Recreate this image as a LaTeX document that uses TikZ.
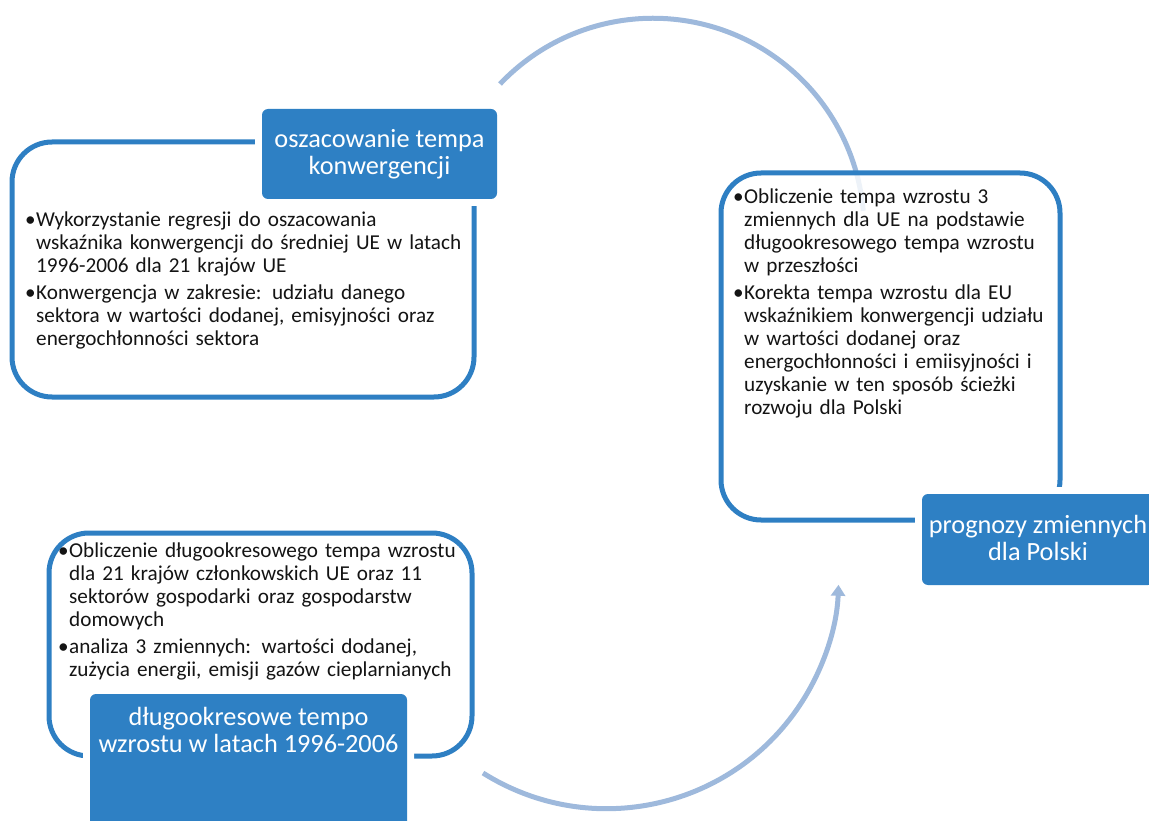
\documentclass[tikz,border=0pt]{standalone}
\usepackage{fontspec}
\setmainfont{Carlito}
\usetikzlibrary{arrows.meta}
\definecolor{frameblue}{RGB}{46,127,195}
\definecolor{headblue}{RGB}{46,128,196}
\definecolor{arcblue}{RGB}{158,185,220}
\definecolor{bodyink}{RGB}{20,20,20}
% bullet item with hanging indent
\newcommand\bul[1]{\par\hangindent=9pt\hangafter=1\noindent\makebox[9pt][l]{\hspace{-2pt}\textbullet}#1\par\vspace{4pt}}
\begin{document}
\begin{tikzpicture}[x=1pt,y=-1pt,
  frame/.style={draw=frameblue,line width=5pt,rounded corners=40pt,fill=white,fill opacity=0.82,inner sep=0pt},
  headbox/.style={fill=headblue,rounded corners=6pt,inner sep=0pt,
    preaction={draw=white,line width=14pt,rounded corners=6pt}},
  headtxt/.style={text=white,font=\fontsize{26.3}{27}\selectfont,align=center,inner sep=0pt},
  bodytxt/.style={text=bodyink,font=\fontsize{21.2}{23}\selectfont,align=left,inner sep=0pt,anchor=north west},
  cyclearc/.style={draw=arcblue,line width=5pt}]
\useasboundingbox (0,0) rectangle (1149,821);
\clip (0,0) rectangle (1149,821);

% cycle arcs
\coordinate (a1) at (500,84);
\coordinate (a2) at (483,773);
\draw[cyclearc] (a1) arc[start angle=136.5,end angle=5,radius=211pt];
\draw[cyclearc,-{Triangle[width=14pt,length=11pt]}] (a2) arc[start angle=237.8,end angle=358,radius=232pt];

% outline frames
\node[frame,minimum width=462pt,minimum height=255pt] (f1) at (243,269.5) {};
\node[frame,minimum width=339pt,minimum height=347pt] (f2) at (890.5,346.5) {};
\node[frame,minimum width=423pt,minimum height=223pt] (f3) at (260.5,644.5) {};

% heading boxes
\node[headbox,minimum width=235pt,minimum height=90pt] (h1) at (379.5,154) {};
\node[headbox,minimum width=232pt,minimum height=91pt] (h2) at (1038,539.5) {};
\node[headbox,minimum width=317pt,minimum height=150pt] (h3) at (248.5,769) {};

\node[headtxt] (h1t) at (h1.center) {oszacowanie tempa\\konwergencji};
\node[headtxt] (h2t) at (1038,538) {prognozy zmiennych\\dla Polski};
\node[headtxt] (h3t) at (248.5,730) {długookresowe tempo\\wzrostu w latach 1996-2006};

% bullet texts
\node[bodytxt,text width=445pt] (b1) at (27,203) {%
\bul{Wykorzystanie regresji do oszacowania\newline wskaźnika konwergencji do średniej UE w latach\newline 1996-2006 dla 21 krajów UE}%
\bul{Konwergencja w zakresie: udziału danego\newline sektora w wartości dodanej, emisyjności oraz\newline energochłonności sektora}};

\node[bodytxt,text width=330pt] (b2) at (735,180) {%
\bul{Obliczenie tempa wzrostu 3\newline zmiennych dla UE na podstawie\newline długookresowego tempa wzrostu\newline w przeszłości}%
\bul{Korekta tempa wzrostu dla EU\newline wskaźnikiem konwergencji udziału\newline w wartości dodanej oraz\newline energochłonności i emiisyjności i\newline uzyskanie w ten sposób ścieżki\newline rozwoju dla Polski}};

\node[bodytxt,text width=415pt] (b3) at (60,534) {%
\bul{Obliczenie długookresowego tempa wzrostu\newline dla 21 krajów członkowskich UE oraz 11\newline sektorów gospodarki oraz gospodarstw\newline domowych}%
\bul{analiza 3 zmiennych: wartości dodanej,\newline zużycia energii, emisji gazów cieplarnianych}};
\end{tikzpicture}
\end{document}
